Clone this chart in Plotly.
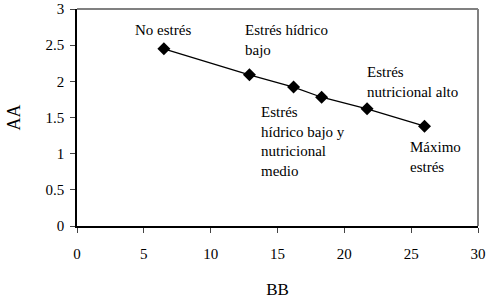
import plotly.graph_objects as go

bb = [6.5, 12.9, 16.2, 18.3, 21.7, 26.0]
aa = [2.45, 2.09, 1.92, 1.78, 1.62, 1.38]
x_ticks = [0, 5, 10, 15, 20, 25, 30]
y_ticks = [0, 0.5, 1, 1.5, 2, 2.5, 3]
y_tick_labels = ["0", "0.5", "1", "1.5", "2", "2.5", "3"]
labels = ["No estrés", "Estrés hídrico<br>bajo", "Estrés<br>hídrico bajo y<br>nutricional<br>medio",
          "Estrés<br>nutricional alto", "Máximo<br>estrés"]

FONT = "Liberation Serif"

fig = go.Figure()
fig.add_trace(go.Scatter(
    x=bb, y=aa, mode="lines+markers",
    line=dict(color="black", width=1.3),
    marker=dict(symbol="diamond", size=10, color="black"),
    showlegend=False,
))

ann_pos = [
    (6.43, 2.85, "center"),
    (12.45, 2.85, "left"),
    (13.65, 1.71, "left"),
    (21.55, 2.27, "left"),
    (24.8, 1.23, "left"),
]
for text, (x, y, al) in zip(labels, ann_pos):
    fig.add_annotation(
        x=x, y=y, xref="x", yref="y", text=text, showarrow=False,
        xanchor=al, yanchor="top", align=al,
        font=dict(family=FONT, size=15, color="black"),
    )

fig.add_shape(type="line", xref="paper", yref="paper", x0=0, x1=1, y0=1, y1=1,
              line=dict(color="#808080", width=2))
fig.add_shape(type="line", xref="paper", yref="paper", x0=1, x1=1, y0=0, y1=1,
              line=dict(color="#808080", width=2))

fig.update_layout(
    width=490, height=300,
    margin=dict(l=77, r=12, t=9, b=74),
    paper_bgcolor="white", plot_bgcolor="white",
    font=dict(family=FONT, size=15, color="black"),
    xaxis=dict(range=[0, 30], tickvals=x_ticks, ticks="outside", ticklen=5, automargin=False,
               ticklabelstandoff=8,
               showgrid=False, zeroline=False, showline=True, linecolor="black", linewidth=1.5,
               title=dict(text="BB", standoff=22, font=dict(size=17))),
    yaxis=dict(range=[0, 3], tickvals=y_ticks, ticktext=y_tick_labels, ticks="outside", ticklen=5,
               automargin=False, ticklabelstandoff=3,
               showgrid=False, zeroline=False, showline=True, linecolor="black", linewidth=1.5,
               title=dict(text="AA", standoff=20, font=dict(size=18))),
)

fig.write_html("out.html", post_script="document.body.style.margin='0';",
               config={"displayModeBar": False})
